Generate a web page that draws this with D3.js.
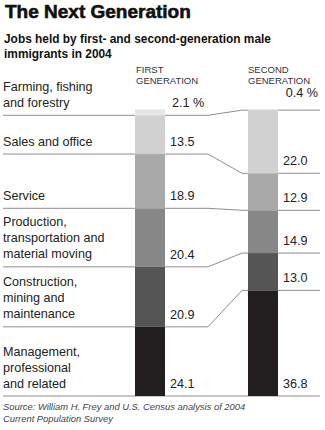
<!DOCTYPE html>
<html><head><meta charset="utf-8">
<script src="https://cdn.jsdelivr.net/npm/d3@7"></script>
<style>body{margin:0;background:#fff}svg{display:block}text{font-family:"Liberation Sans",Arial,sans-serif}</style>
</head><body><svg id="c" width="325" height="430"></svg>
<script>
const categories = ["Farming, fishing and forestry","Sales and office","Service","Production, transportation and material moving","Construction, mining and maintenance","Management, professional and related"];
const labelLines = [["Farming, fishing","and forestry"],["Sales and office"],["Service"],["Production,","transportation and","material moving"],["Construction,","mining and","maintenance"],["Management,","professional","and related"]];
const firstGen = [2.1,13.5,18.9,20.4,20.9,24.1];
const secondGen = [0.4,22.0,12.9,14.9,13.0,36.8];
const firstLabels = ["2.1 %","13.5","18.9","20.4","20.9","24.1"];
const secondLabels = ["0.4 %","22.0","12.9","14.9","13.0","36.8"];
const seriesNames = [["FIRST","GENERATION"],["SECOND","GENERATION"]];
const colors = ["#e6e6e6","#d1d1d1","#a9a9a9","#878787","#555555","#231f20"];

const svg = d3.select("#c");
const y = d3.scaleLinear().domain([0,100]).range([396,109]);
const bw = 30;
const x0 = 135, x1 = 248;

function stackBottom(vals){
  const n = vals.length; const out = new Array(n); let acc = 0;
  for(let i=n-1;i>=0;i--){ out[i] = {lo:acc, hi:acc+vals[i]}; acc += vals[i]; }
  return out;
}
const s1 = stackBottom(firstGen), s2 = stackBottom(secondGen);

// title
svg.append("text").attr("x",5).attr("y",18).attr("font-size",19).attr("font-weight","bold")
  .attr("fill","#111").attr("stroke","#111").attr("stroke-width",0.6).text("The Next Generation");
svg.append("text").attr("x",4).attr("y",42.5).attr("font-size",11.9).attr("font-weight","bold").attr("fill","#111")
  .text("Jobs held by first- and second-generation male");
svg.append("text").attr("x",4).attr("y",58).attr("font-size",11.9).attr("font-weight","bold").attr("fill","#111")
  .text("immigrants in 2004");

// series headers
[[x0+1,seriesNames[0]],[x1,seriesNames[1]]].forEach(([hx,lines])=>{
  lines.forEach((t,i)=>svg.append("text").attr("x",hx).attr("y",72.5+i*11.2).attr("font-size",9.5).attr("fill","#333").text(t));
});

const lineCol = "#8f8f8f";
categories.forEach((c,i)=>{
  const yA = y(s1[i].lo), yB = y(s2[i].lo);
  if(i < categories.length-1){
    svg.append("line").attr("x1",3).attr("x2",x0).attr("y1",yA).attr("y2",yA).attr("stroke",lineCol).attr("stroke-width",1);
    svg.append("path").attr("d",`M${x0+bw},${yA}H208L242,${yB}H${x1}`).attr("fill","none").attr("stroke",lineCol).attr("stroke-width",1);
    svg.append("line").attr("x1",x1+bw).attr("x2",320).attr("y1",yB).attr("y2",yB).attr("stroke",lineCol).attr("stroke-width",1);
  }
});
svg.append("line").attr("x1",3).attr("x2",320).attr("y1",396).attr("y2",396).attr("stroke",lineCol).attr("stroke-width",1.2);

// bars
svg.selectAll("rect.b1").data(s1).join("rect").attr("x",x0).attr("width",bw)
  .attr("y",d=>y(d.hi)).attr("height",d=>y(d.lo)-y(d.hi)).attr("fill",(d,i)=>colors[i]);
svg.selectAll("rect.b2").data(s2).join("rect").attr("x",x1).attr("width",bw)
  .attr("y",d=>y(d.hi)).attr("height",d=>y(d.lo)-y(d.hi)).attr("fill",(d,i)=>colors[i]);

// category labels
labelLines.forEach((lines,i)=>{
  const base = y(s1[i].lo) - 8.5;
  const n = lines.length;
  lines.forEach((t,j)=>svg.append("text").attr("x",3).attr("y",base-(n-1-j)*16).attr("font-size",12.6).attr("fill","#222").text(t));
});
// value labels
firstLabels.forEach((t,i)=>{
  svg.append("text").attr("x",i===0?172:170).attr("y",y(s1[i].lo)-8).attr("font-size",12.6).attr("fill","#222").text(t);
});
secondLabels.forEach((t,i)=>{
  if(i===0){
    svg.append("text").attr("x",318).attr("y",97).attr("text-anchor","end").attr("font-size",12.6).attr("fill","#222").text(t);
  } else {
    svg.append("text").attr("x",283).attr("y",y(s2[i].lo)-8.5).attr("font-size",12.6).attr("fill","#222").text(t);
  }
});

// source
svg.append("text").attr("x",3).attr("y",410).attr("font-size",9.4).attr("font-style","italic").attr("fill","#444")
  .text("Source: William H. Frey and U.S. Census analysis of 2004");
svg.append("text").attr("x",3).attr("y",422).attr("font-size",9.4).attr("font-style","italic").attr("fill","#444")
  .text("Current Population Survey");
</script></body></html>
